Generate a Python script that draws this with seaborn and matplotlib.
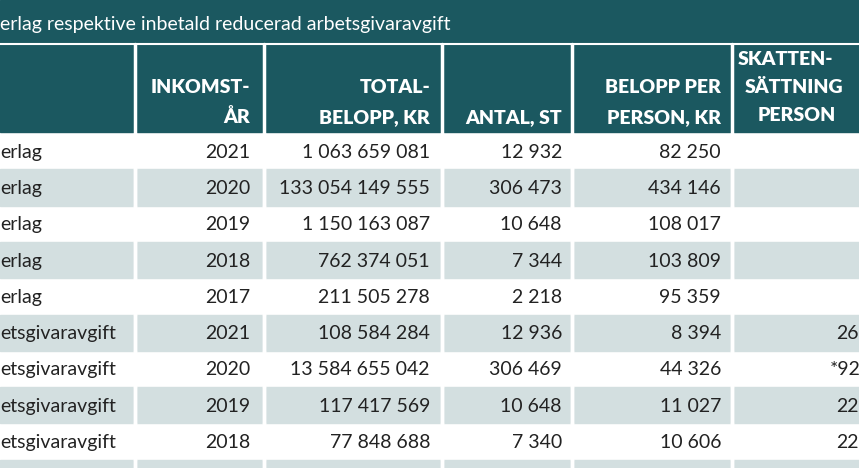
import matplotlib
matplotlib.use("Agg")
import matplotlib.pyplot as plt
import seaborn as sns

sns.set_style("white")
plt.rcParams['font.family'] = ['Lato', 'DejaVu Sans']

title = "erlag respektive inbetald reducerad arbetsgivaravgift"
labels = ["erlag", "erlag", "erlag", "erlag", "erlag",
          "etsgivaravgift", "etsgivaravgift", "etsgivaravgift", "etsgivaravgift"]
years = ["2021", "2020", "2019", "2018", "2017", "2021", "2020", "2019", "2018"]
totals = ["1 063 659 081", "133 054 149 555", "1 150 163 087", "762 374 051", "211 505 278",
          "108 584 284", "13 584 655 042", "117 417 569", "77 848 688"]
counts = ["12 932", "306 473", "10 648", "7 344", "2 218", "12 936", "306 469", "10 648", "7 340"]
per_person = ["82 250", "434 146", "108 017", "103 809", "95 359", "8 394", "44 326", "11 027", "10 606"]
last_col = ["", "", "", "", "", "26", "*92", "22", "22"]

teal = "#1b5860"
stripe = "#d3dfe0"

fig = plt.figure(figsize=(8.59, 4.68), dpi=100)
ax = fig.add_axes([0, 0, 1, 1])
ax.set_xlim(0, 859)
ax.set_ylim(468, 0)
ax.axis("off")

# title bar and header
ax.add_patch(plt.Rectangle((0, 0), 859, 132, color=teal))
ax.plot([0, 859], [44, 44], color="white", lw=1.5)
for x in [134.5, 263.5, 441.5, 571.5, 731.5]:
    ax.plot([x, x], [44, 468], color="white", lw=2.5)
ax.text(0, 30, title, color="white", fontsize=14, va="baseline")

hdr = dict(color="white", fontsize=14, fontweight="heavy", va="baseline")
ax.text(250, 93, "INKOMST-", ha="right", **hdr)
ax.text(250, 123, "ÅR", ha="right", **hdr)
ax.text(430, 93, "TOTAL-", ha="right", **hdr)
ax.text(430, 123, "BELOPP, KR", ha="right", **hdr)
ax.text(562, 123, "ANTAL, ST", ha="right", **hdr)
ax.text(721, 93, "BELOPP PER", ha="right", **hdr)
ax.text(721, 123, "PERSON, KR", ha="right", **hdr)
ax.text(738, 65, "SKATTEN-", ha="left", **hdr)
ax.text(745, 93, "SÄTTNING", ha="left", **hdr)
ax.text(758, 121, "PERSON", ha="left", **hdr)

row_h = 36.3
top = 133
for i in range(len(years) + 1):
    y0 = top + i * row_h
    if i % 2 == 1:
        ax.add_patch(plt.Rectangle((0, y0), 859, row_h, color=stripe, zorder=0))
    for x in [134.5, 263.5, 441.5, 571.5, 731.5]:
        ax.plot([x, x], [y0, y0 + row_h], color="white", lw=2.5, zorder=1)

cell = dict(fontsize=14, color="#222222", va="center")
for i in range(len(years)):
    yc = top + i * row_h + row_h / 2 + 1
    ax.text(0, yc, labels[i], ha="left", **cell)
    ax.text(250, yc, years[i], ha="right", **cell)
    ax.text(430, yc, totals[i], ha="right", **cell)
    ax.text(562, yc, counts[i], ha="right", **cell)
    ax.text(721, yc, per_person[i], ha="right", **cell)
    if last_col[i]:
        ax.text(861 if last_col[i].startswith("*") else 859, yc, last_col[i], ha="right", **cell)

fig.savefig("out.png", dpi=100)
